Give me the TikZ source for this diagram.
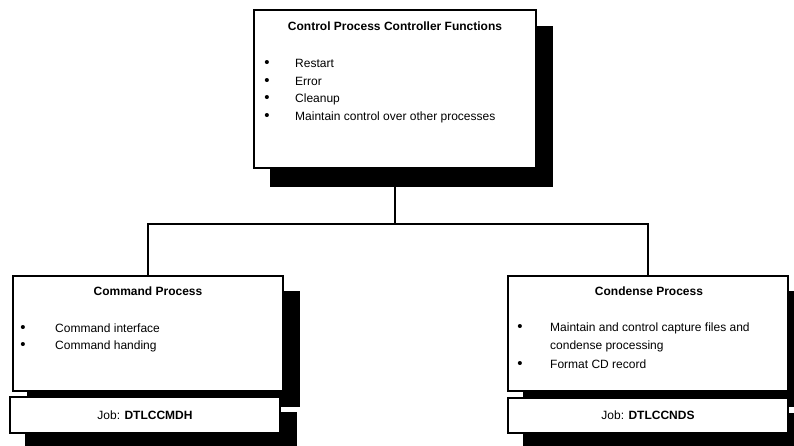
\documentclass[tikz,border=0pt]{standalone}
\usepackage{fontspec}
\setmainfont{Liberation Sans}
\begin{document}
\begin{tikzpicture}[x=1pt,y=-1pt,
  box/.style={draw=black,line width=1.3pt,fill=white,inner sep=0pt,outer sep=0pt,anchor=north west},
  ttl/.style={font=\fontsize{12}{14}\selectfont\bfseries,inner sep=0pt},
  itm/.style={font=\fontsize{12}{14}\selectfont,inner sep=0pt,anchor=west},
  bul/.style={font=\fontsize{15}{16}\selectfont,inner sep=0pt,anchor=base},
  job/.style={font=\fontsize{12}{14}\selectfont,inner sep=0pt},
  conn/.style={line width=1.3pt}]
\useasboundingbox (0,0) rectangle (794,446);
\clip (0,0) rectangle (794,446);
% shadows
\fill (270,26) rectangle (553,187);
\fill (27,291) rectangle (300,407);
\fill (25,412) rectangle (297,460);
\fill (523,291) rectangle (805,407);
\fill (523,413) rectangle (805,460);
% boxes
\node[box,minimum width=282pt,minimum height=158pt] (top) at (254,10) {};
\node[box,minimum width=270pt,minimum height=115pt] (left) at (13,276) {};
\node[box,minimum width=270pt,minimum height=36pt] (leftjob) at (10,397) {};
\node[box,minimum width=280pt,minimum height=115pt] (right) at (508,276) {};
\node[box,minimum width=280pt,minimum height=35pt] (rightjob) at (508,398) {};
% connectors
\coordinate (junc) at (top.south |- 0,224);
\draw[conn] (top.south) -- (junc);
\draw[conn] (junc) -| (left.north);
\draw[conn] (junc) -| (right.north);
% top texts
\node[ttl] (toptitle) at (395,26) {Control Process Controller Functions};
\node[itm] (ti1) at (295,63) {Restart};
\node[itm] (ti2) at (295,81) {Error};
\node[itm] (ti3) at (295,99) {Cleanup};
\node[itm] (ti4) at (295,117) {Maintain control over other processes};
\node[bul] (tb1) at (ti1.base -| 267,0) {\textbullet};
\node[bul] (tb2) at (ti2.base -| 267,0) {\textbullet};
\node[bul] (tb3) at (ti3.base -| 267,0) {\textbullet};
\node[bul] (tb4) at (ti4.base -| 267,0) {\textbullet};
% left texts
\node[ttl] (lefttitle) at (148,291) {Command Process};
\node[itm] (li1) at (55,328) {Command interface};
\node[itm] (li2) at (55,346) {Command handing};
\node[bul] (lb1) at (li1.base -| 23,0) {\textbullet};
\node[bul] (lb2) at (li2.base -| 23,0) {\textbullet};
\node[job] (leftjobtext) at (145,415) {Job: \textbf{DTLCCMDH}};
% right texts
\node[ttl] (righttitle) at (649,291) {Condense Process};
\node[itm] (ri1) at (550,328) {Maintain and control capture files and};
\node[itm] (ri2) at (550,346) {condense processing};
\node[itm] (ri3) at (550,364) {Format CD record};
\node[bul] (rb1) at (ri1.base -| 520,0) {\textbullet};
\node[bul] (rb2) at (ri3.base -| 520,0) {\textbullet};
\node[job] (rightjobtext) at (648,415) {Job: \textbf{DTLCCNDS}};
\end{tikzpicture}
\end{document}
